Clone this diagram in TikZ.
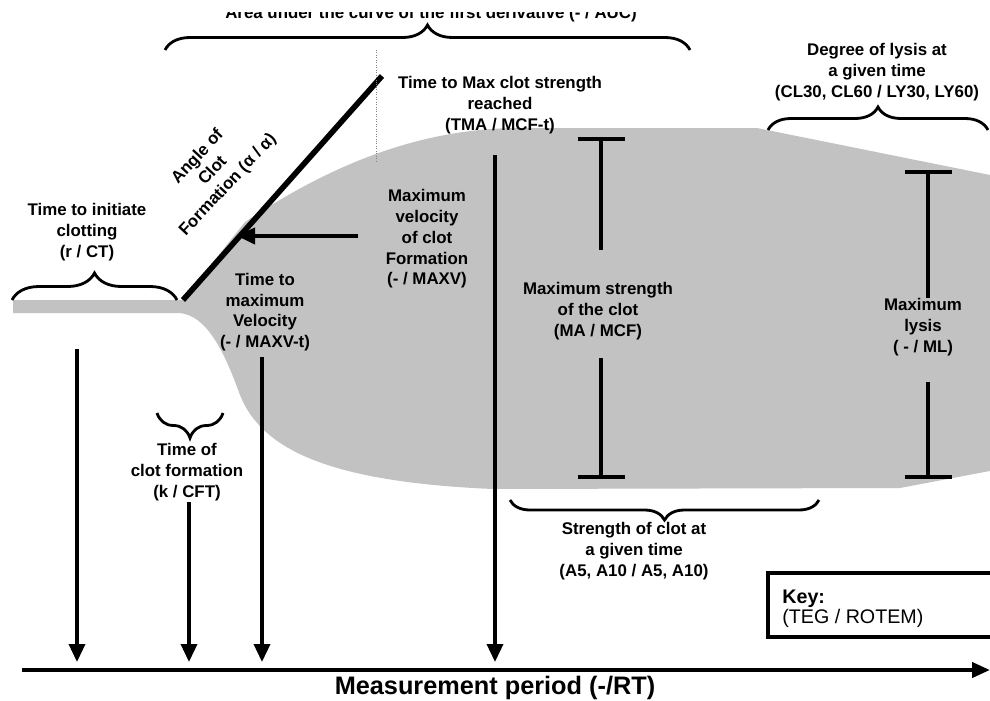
\documentclass[tikz,border=0pt]{standalone}
\usepackage{fontspec}
\setmainfont{Liberation Sans}
\usepackage{tikz}
\usetikzlibrary{arrows.meta}
\usetikzlibrary{positioning}
\usetikzlibrary{decorations.pathreplacing}

\definecolor{clotgrey}{RGB}{194,194,194}

\begin{document}
\begin{tikzpicture}[x=0.02cm, y=-0.02cm,
    lbl/.style={font=\fontsize{9.6}{11.8}\selectfont\bfseries, align=center, inner sep=0pt},
    tickarrow/.style={line width=2pt, -{Triangle[length=0.36cm, width=0.32cm]}},
    ibar/.style={line width=2.3pt},
    curly/.style={line width=1.6pt, decorate, decoration={brace, amplitude=#1}}]
    \useasboundingbox (0,0) rectangle (990,700);

    % the trace
    \fill[clotgrey] (13,300) -- (183,300) -- (245,222) .. controls (330,165) and (420,128) .. (520,128)
        -- (757,128) -- (995,176) -- (995,470) -- (900,488) -- (493,489)
        .. controls (330,482) and (262,450) .. (240,395) .. controls (222,345) and (205,316) .. (180,313)
        -- (13,313) -- cycle;

    \coordinate (a0) at (183,300);
    \coordinate (a1) at (382,76);
    \draw[line width=3.2pt] (a0) -- (a1);
    \coordinate (d0) at (376,50);
    \coordinate (d1) at (376,163);
    \draw[gray, densely dotted, thin] (d0) -- (d1);

    \begin{scope}
    \clip (0,12) rectangle (990,40);
    \node[lbl, anchor=base] (auc) at (431,18) {Area under the curve of the first derivative (- / AUC)};
    \end{scope}
    \draw[curly=0.5cm] (165,50) -- (690,50);

    \node[lbl] (tma) at (500,105) {Time to Max clot strength\\reached\\(TMA / MCF-t)};
    \node[lbl] (lysis) at (877,72) {Degree of lysis at\\a given time\\(CL30, CL60 / LY30, LY60)};
    \draw[curly=0.46cm] (768,130) -- (988,130);

    \node[lbl, rotate=47] (angle) at (213,171) {Angle of\\Clot\\Formation (α / α)};

    \node[lbl] (ct) at (87,232) {Time to initiate\\clotting\\(r / CT)};
    \draw[curly=0.54cm] (12,300) -- (177,300);

    \node[lbl] (maxv) at (427,239) {Maximum\\velocity\\of clot\\Formation\\(- / MAXV)};
    \coordinate (v0) at (358,236);
    \coordinate (v1) at (237,236);
    \draw[tickarrow, line width=2.2pt] (v0) -- (v1);

    \node[lbl] (maxvt) at (265,312) {Time to\\maximum\\Velocity\\(- / MAXV-t)};
    \draw[curly=0.5cm] (223,413) -- (157,413);
    \node[lbl] (cft) at (187,472) {Time of\\clot formation\\(k / CFT)};

    \node[lbl] (mcf) at (598,311) {Maximum strength\\of the clot\\(MA / MCF)};
    \coordinate (ma0) at (601,139);
    \coordinate (ma1) at (601,250);
    \coordinate (ma2) at (601,358);
    \coordinate (ma3) at (601,477);
    \draw[ibar] (ma0) -- (ma1) (ma2) -- (ma3);
    \draw[ibar] ([xshift=-0.47cm]ma0) -- ([xshift=0.47cm]ma0);
    \draw[ibar] ([xshift=-0.47cm]ma3) -- ([xshift=0.47cm]ma3);

    \node[lbl] (ml) at (923,327) {Maximum\\lysis\\( - / ML)};
    \coordinate (ml0) at (928,172);
    \coordinate (ml1) at (928,298);
    \coordinate (ml2) at (928,382);
    \coordinate (ml3) at (928,477);
    \draw[ibar] (ml0) -- (ml1) (ml2) -- (ml3);
    \draw[ibar] ([xshift=-0.47cm]ml0) -- ([xshift=0.47cm]ml0);
    \draw[ibar] ([xshift=-0.47cm]ml3) -- ([xshift=0.47cm]ml3);

    \draw[curly=0.4cm] (819,500) -- (510,500);
    \node[lbl] (amp) at (634,551) {Strength of clot at\\a given time\\(A5, A10 / A5, A10)};

    \draw[line width=2pt] (768,573) rectangle (1010,637);
    \node[font=\fontsize{11.2}{13}\selectfont\bfseries, anchor=base west, inner sep=0pt] (key) at (782,603) {Key:};
    \node[font=\fontsize{11.2}{13}\selectfont, anchor=base west, inner sep=0pt] (keyt) at (782,623) {(TEG / ROTEM)};

    % time axis
    \coordinate (t0) at (22,670);
    \coordinate (t1) at (990,670);
    \draw[line width=2.3pt, -{Triangle[length=0.36cm, width=0.3cm]}] (t0) -- (t1);
    \node[font=\fontsize{14.4}{16}\selectfont\bfseries, anchor=base, inner sep=0pt] (period) at (495,694) {Measurement period (-/RT)};

    \foreach \px/\py [count=\i] in {77/349, 189/502, 262/357, 495/155} {
        \coordinate (s\i) at (\px,\py);
        \coordinate (e\i) at (\px,662);
        \draw[tickarrow] (s\i) -- (e\i);
    }
\end{tikzpicture}
\end{document}
